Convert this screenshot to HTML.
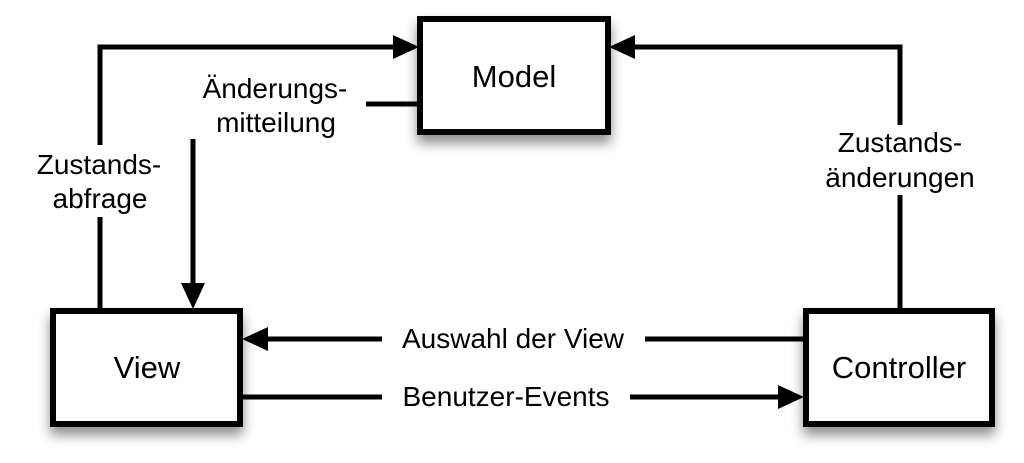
<!DOCTYPE html>
<html><head><meta charset="utf-8"><style>
body{margin:0;background:#fff;width:1024px;height:458px;overflow:hidden}
svg text{font-family:"Liberation Sans",sans-serif;fill:#000}
</style></head><body>
<svg width="1024" height="458" viewBox="0 0 1024 458">
<defs>
<filter id="sh" x="-20%" y="-20%" width="140%" height="160%"><feDropShadow dx="0" dy="8" stdDeviation="6" flood-color="#000" flood-opacity="0.45"/></filter>
</defs>
<g stroke="#000" stroke-width="5" fill="none">
<polyline points="100,145 100,47 395,47"/>
<line x1="100" y1="217" x2="100" y2="310"/>
<line x1="366" y1="104" x2="420" y2="104"/>
<line x1="193" y1="139" x2="193" y2="285"/>
<polyline points="900,125 900,47 635,47"/>
<line x1="900" y1="195" x2="900" y2="310"/>
<line x1="268" y1="339" x2="382" y2="339"/>
<line x1="645" y1="339" x2="804" y2="339"/>
<line x1="241" y1="397" x2="382" y2="397"/>
<line x1="630" y1="397" x2="780" y2="397"/>
</g>
<g fill="#000">
<polygon points="419,47 393,35 393,59"/>
<polygon points="609,47 635,35 635,59"/>
<polygon points="193,309 181,283 205,283"/>
<polygon points="242,339 268,327 268,351"/>
<polygon points="804,397 778,385 778,409"/>
</g>
<g fill="#fff" stroke="#000" stroke-width="6" filter="url(#sh)">
<rect x="420" y="19" width="188" height="113"/>
<rect x="53" y="311" width="187" height="113"/>
<rect x="806" y="311" width="186" height="113"/>
</g>
<g font-size="31" text-anchor="middle">
<text x="514" y="87">Model</text>
<text x="147" y="378">View</text>
<text x="899" y="378">Controller</text>
</g>
<g font-size="28" text-anchor="middle">
<text x="99" y="174">Zustands-</text>
<text x="100" y="208">abfrage</text>
<text x="275" y="98">Änderungs-</text>
<text x="276" y="132">mitteilung</text>
<text x="900" y="152">Zustands-</text>
<text x="900" y="187">änderungen</text>
<text x="513" y="348">Auswahl der View</text>
<text x="506" y="406">Benutzer-Events</text>
</g>
</svg>
</body></html>
